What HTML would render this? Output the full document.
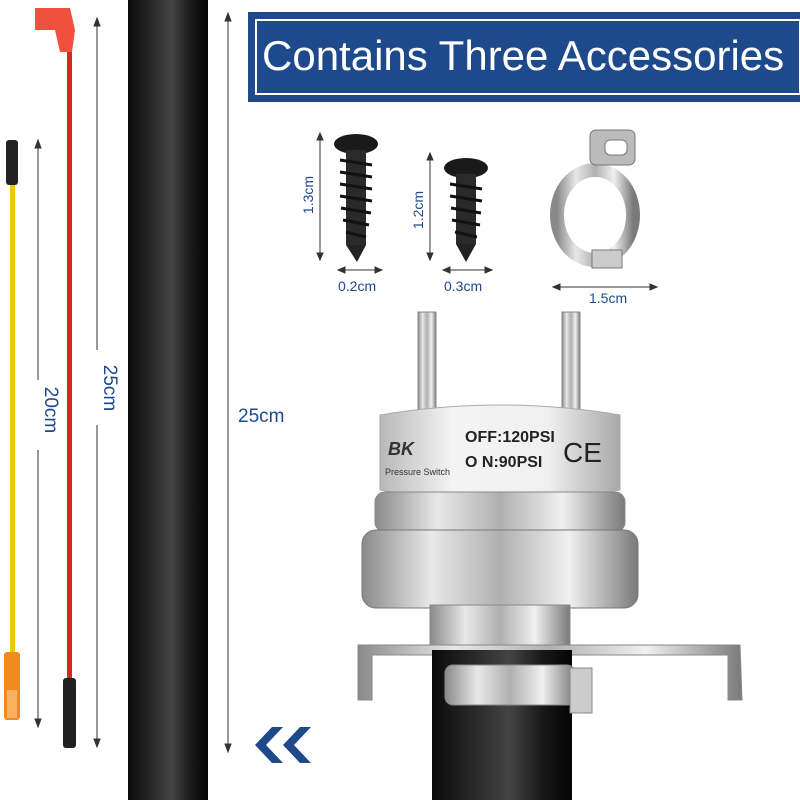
<!DOCTYPE html>
<html><head><meta charset="utf-8"><style>
html,body{margin:0;padding:0;background:#fff}
svg{display:block}
text{font-family:"Liberation Sans",Arial,sans-serif}
</style></head><body>
<svg width="800" height="800" viewBox="0 0 800 800" xmlns="http://www.w3.org/2000/svg">
<defs>
<linearGradient id="tube" x1="0" x2="1">
<stop offset="0" stop-color="#0a0a0a"/><stop offset="0.35" stop-color="#2e2e2e"/><stop offset="0.55" stop-color="#444"/><stop offset="0.8" stop-color="#161616"/><stop offset="1" stop-color="#050505"/></linearGradient>
<linearGradient id="metal" x1="0" x2="1">
<stop offset="0" stop-color="#8a8a8a"/><stop offset="0.25" stop-color="#e8e8e8"/><stop offset="0.5" stop-color="#b0b0b0"/><stop offset="0.75" stop-color="#f0f0f0"/><stop offset="1" stop-color="#7a7a7a"/></linearGradient>
<linearGradient id="body" x1="0" x2="1">
<stop offset="0" stop-color="#b8b8b8"/><stop offset="0.3" stop-color="#f4f4f4"/><stop offset="0.7" stop-color="#f0f0f0"/><stop offset="1" stop-color="#a8a8a8"/></linearGradient>
</defs>
<rect width="800" height="800" fill="#fff"/>

<rect x="10" y="165" width="5" height="495" fill="#f0c800"/>
<rect x="6" y="140" width="12" height="45" rx="3" fill="#222"/>
<rect x="4" y="652" width="16" height="68" rx="3" fill="#f08a20"/>
<rect x="7" y="690" width="10" height="28" fill="#fbb060"/>
<rect x="67" y="45" width="5" height="635" fill="#d8281e"/>
<path d="M35 8 L70 8 L75 30 L72 52 L60 52 L55 30 L35 30 Z" fill="#f05040"/>
<rect x="63" y="678" width="13" height="70" rx="3" fill="#202020"/>

<g stroke="#333" stroke-width="1" fill="#333">
<line x1="38" y1="142" x2="38" y2="380"/><line x1="38" y1="450" x2="38" y2="725"/>
<path d="M38 140 l-3 8 h6z M38 727 l-3 -8 h6z"/>
<line x1="97" y1="20" x2="97" y2="350"/><line x1="97" y1="425" x2="97" y2="745"/>
<path d="M97 18 l-3 8 h6z M97 747 l-3 -8 h6z"/>
<line x1="228" y1="15" x2="228" y2="750"/>
<path d="M228 13 l-3 8 h6z M228 752 l-3 -8 h6z"/>
</g>
<text transform="translate(45,410) rotate(90)" font-size="19" fill="#1e4a8c" text-anchor="middle">20cm</text>
<text transform="translate(104,388) rotate(90)" font-size="19" fill="#1e4a8c" text-anchor="middle">25cm</text>
<text x="238" y="422" font-size="19" fill="#1e4a8c">25cm</text>

<rect x="128" y="0" width="80" height="800" fill="url(#tube)"/>

<rect x="248" y="12" width="552" height="90" fill="#1e4a8c"/>
<rect x="256" y="20" width="544" height="74" fill="none" stroke="#fff" stroke-width="2"/>
<text x="262" y="70" font-size="42" fill="#fff">Contains Three Accessories</text>

<ellipse cx="356" cy="144" rx="22" ry="10" fill="#1a1a1a"/>
<rect x="346" y="150" width="20" height="95" fill="#2a2a2a"/>
<g stroke="#111" stroke-width="3">
<line x1="340" y1="160" x2="372" y2="165"/><line x1="340" y1="172" x2="372" y2="177"/><line x1="340" y1="184" x2="372" y2="189"/><line x1="340" y1="196" x2="372" y2="201"/><line x1="341" y1="208" x2="371" y2="213"/><line x1="343" y1="220" x2="369" y2="225"/><line x1="346" y1="232" x2="366" y2="237"/></g>
<path d="M346 245 L366 245 L357 262Z" fill="#222"/>
<ellipse cx="466" cy="168" rx="22" ry="10" fill="#1a1a1a"/>
<rect x="456" y="174" width="20" height="70" fill="#2a2a2a"/>
<g stroke="#111" stroke-width="3">
<line x1="450" y1="184" x2="482" y2="189"/><line x1="450" y1="196" x2="482" y2="201"/><line x1="451" y1="208" x2="481" y2="213"/><line x1="452" y1="220" x2="480" y2="225"/><line x1="455" y1="232" x2="477" y2="237"/></g>
<path d="M456 244 L476 244 L466 262Z" fill="#222"/>
<g stroke="#333" stroke-width="1" fill="#333">
<line x1="320" y1="135" x2="320" y2="258"/><path d="M320 133 l-3 7 h6z M320 260 l-3 -7 h6z"/>
<line x1="430" y1="155" x2="430" y2="258"/><path d="M430 153 l-3 7 h6z M430 260 l-3 -7 h6z"/>
<line x1="340" y1="270" x2="380" y2="270"/><path d="M338 270 l7 -3 v6z M382 270 l-7 -3 v6z"/>
<line x1="445" y1="270" x2="490" y2="270"/><path d="M443 270 l7 -3 v6z M492 270 l-7 -3 v6z"/>
<line x1="555" y1="287" x2="655" y2="287"/><path d="M553 287 l7 -3 v6z M657 287 l-7 -3 v6z"/>
</g>
<text transform="translate(313,195) rotate(-90)" font-size="14" fill="#1e4a8c" text-anchor="middle">1.3cm</text>
<text transform="translate(423,210) rotate(-90)" font-size="14" fill="#1e4a8c" text-anchor="middle">1.2cm</text>
<text x="338" y="291" font-size="14" fill="#1e4a8c">0.2cm</text>
<text x="444" y="291" font-size="14" fill="#1e4a8c">0.3cm</text>
<text x="589" y="303" font-size="14" fill="#1e4a8c">1.5cm</text>

<ellipse cx="595" cy="215" rx="38" ry="45" fill="none" stroke="url(#metal)" stroke-width="14"/>
<rect x="590" y="130" width="45" height="35" rx="6" fill="#bbb" stroke="#777"/>
<rect x="605" y="140" width="22" height="15" rx="5" fill="#fff" stroke="#777"/>
<rect x="592" y="250" width="30" height="18" fill="#ccc" stroke="#777"/>

<rect x="418" y="312" width="18" height="100" fill="url(#metal)" stroke="#888"/>
<rect x="562" y="312" width="18" height="100" fill="url(#metal)" stroke="#888"/>
<path d="M380 415 Q500 395 620 415 L620 490 Q500 510 380 490Z" fill="url(#body)" stroke="#aaa"/>
<text x="388" y="455" font-size="18" font-style="italic" font-weight="bold" fill="#333">BK</text>
<text x="385" y="475" font-size="9" fill="#333">Pressure Switch</text>
<text x="465" y="442" font-size="16" font-weight="bold" fill="#222">OFF:120PSI</text>
<text x="465" y="467" font-size="16" font-weight="bold" fill="#222">O  N:90PSI</text>
<text x="563" y="462" font-size="28" fill="#222">CE</text>
<rect x="375" y="492" width="250" height="40" rx="10" fill="url(#metal)" stroke="#888"/>
<rect x="362" y="530" width="276" height="78" rx="14" fill="url(#metal)" stroke="#777"/>
<rect x="430" y="605" width="140" height="40" fill="url(#metal)" stroke="#888"/>
<path d="M358 645 L740 645 L742 700 L728 700 L728 655 L372 655 L372 700 L358 700Z" fill="url(#metal)" stroke="#888"/>
<rect x="432" y="650" width="140" height="150" fill="url(#tube)"/>
<rect x="445" y="665" width="130" height="40" rx="8" fill="url(#metal)" stroke="#888"/>
<rect x="570" y="668" width="22" height="45" fill="#ccc" stroke="#888"/>

<path d="M272 727 L255 745 L272 763 L283 763 L266 745 L283 727Z" fill="#1e4a8c"/>
<path d="M300 727 L283 745 L300 763 L311 763 L294 745 L311 727Z" fill="#1e4a8c"/>
</svg>
</body></html>
